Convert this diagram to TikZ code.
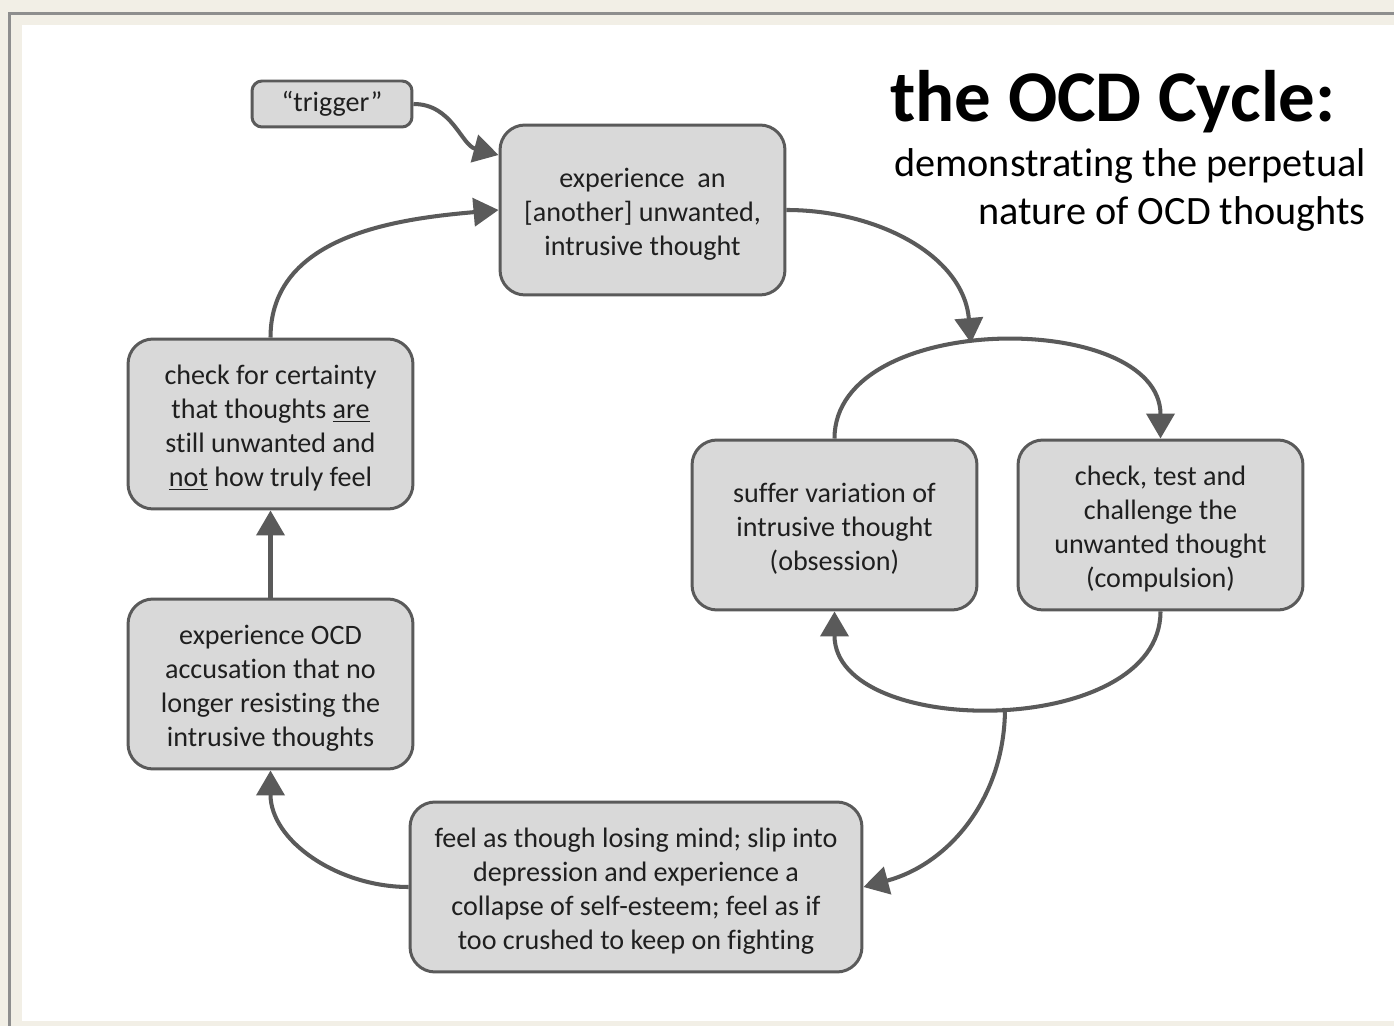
\documentclass[tikz,border=0pt]{standalone}
\usepackage{fontspec}
\setmainfont{Carlito}[Ligatures=NoCommon]
\usetikzlibrary{arrows.meta}
\usetikzlibrary{calc}

\definecolor{boxgray}{HTML}{D9D9D9}
\definecolor{linegray}{HTML}{5A5A5A}
\definecolor{paper}{HTML}{F2EFE6}
\definecolor{framegray}{HTML}{8E8E8E}

\newcommand{\toppad}{\rule{0pt}{15.5pt}}

\begin{document}
\begin{tikzpicture}[x=0.02cm, y=-0.02cm,
        box_style/.style={rectangle, rounded corners=0.5cm, draw=linegray, line width=1.7pt, fill=boxgray, minimum width=5.7cm, minimum height=3.4cm, align=center, font=\fontsize{16}{19.4}\selectfont, text=black!88},
        trigger_style/.style={rectangle, rounded corners=0.2cm, draw=linegray, line width=1.7pt, fill=boxgray, minimum width=3.2cm, minimum height=0.92cm, font=\fontsize{16}{19.4}\selectfont, text=black!88},
        edge_style/.style={draw=linegray, line width=2.3pt, -{Triangle[length=0.5cm, width=0.56cm]}}]

        \useasboundingbox (0,0) rectangle (1394,1026);
        \fill [paper] (0,0) rectangle (1394,1026);
        \draw [framegray, line width=1.7pt] (9.5,1026) -- (9.5,13.5) -- (1394,13.5);
        \fill [white] (22,25) rectangle (1394,1021);

        \node [anchor=east, font=\fontsize{41.5}{48}\bfseries\selectfont](title) at (1342,102) {the OCD Cycle:};

        \node [anchor=east, align=right, font=\fontsize{22.9}{27.4}\selectfont](subtitle) at (1372,190) {demonstrating the perpetual\\nature of OCD thoughts};

        \node [trigger_style](trigger) at (332,104) {“trigger”};

        \node [box_style](intrusive) at (642.5,210) {\toppad experience\ \ an\\{}[another] unwanted,\\intrusive thought};

        \node [box_style](variation) at (834.5,525) {\toppad suffer variation of\\intrusive thought\\(obsession)};

        \node [box_style](compulsion) at (1160.5,525) {\toppad check, test and\\challenge the\\unwanted thought\\(compulsion)};

        \node [box_style, minimum width=9.04cm](despair) at (636,887) {\toppad feel as though losing mind; slip into\\depression and experience a\\collapse of self-esteem; feel as if\\too crushed to keep on fighting};

        \node [box_style](accusation) at (270.5,684) {\toppad experience OCD\\accusation that no\\longer resisting the\\intrusive thoughts};

        \node [box_style](certainty) at (270.5,424) {\toppad check for certainty\\that thoughts \underline{are}\\still unwanted and\\\underline{not} how truly feel};

        \coordinate (top_join) at (971,343);

        \coordinate (bottom_join) at (1005,708);

        \draw [edge_style] (trigger.east) to[out=0, in=165] ([yshift=1.1cm]intrusive.west);

        \draw [edge_style] (intrusive.east) to[out=0, in=95] (top_join);

        \draw [edge_style] (variation.north) .. controls +(0,-129) and +(0,-129) .. (compulsion.north);

        \draw [edge_style] (compulsion.south) .. controls +(0,128) and +(0,128) .. (variation.south);

        \draw [edge_style] (bottom_join) to[out=-90, in=15] (despair.east);

        \draw [edge_style] (despair.west) to[out=180, in=-90] (accusation.south);

        \draw [edge_style] (accusation.north) -- (certainty.south);

        \draw [edge_style] (certainty.north) to[out=90, in=185] (intrusive.west);

        \end{tikzpicture}
\end{document}
